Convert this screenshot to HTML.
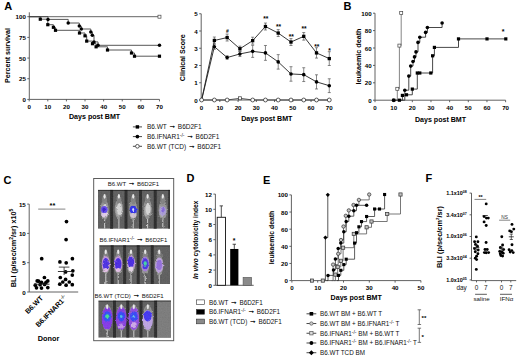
<!DOCTYPE html>
<html><head><meta charset="utf-8"><title>Figure</title>
<style>
html,body{margin:0;padding:0;background:#fff;}
body{width:520px;height:358px;overflow:hidden;}
svg{display:block;}
text{font-family:"Liberation Sans", sans-serif;}
</style></head>
<body>
<svg width="520" height="358" viewBox="0 0 520 358">
<rect x="0" y="0" width="520" height="358" fill="#fff"/>
<text x="4.20" y="9.80" font-size="11" font-weight="bold" text-anchor="start" fill="#000" >A</text>
<line x1="29.30" y1="12.30" x2="29.30" y2="99.40" stroke="#505050" stroke-width="0.9"/>
<line x1="27.30" y1="99.40" x2="29.30" y2="99.40" stroke="#505050" stroke-width="0.9"/>
<text x="25.90" y="101.92" font-size="6.2" font-weight="bold" text-anchor="end" fill="#000" >0</text>
<line x1="27.30" y1="78.73" x2="29.30" y2="78.73" stroke="#505050" stroke-width="0.9"/>
<text x="25.90" y="81.24" font-size="6.2" font-weight="bold" text-anchor="end" fill="#000" >25</text>
<line x1="27.30" y1="58.05" x2="29.30" y2="58.05" stroke="#505050" stroke-width="0.9"/>
<text x="25.90" y="60.57" font-size="6.2" font-weight="bold" text-anchor="end" fill="#000" >50</text>
<line x1="27.30" y1="37.38" x2="29.30" y2="37.38" stroke="#505050" stroke-width="0.9"/>
<text x="25.90" y="39.89" font-size="6.2" font-weight="bold" text-anchor="end" fill="#000" >75</text>
<line x1="27.30" y1="16.70" x2="29.30" y2="16.70" stroke="#505050" stroke-width="0.9"/>
<text x="25.90" y="19.22" font-size="6.2" font-weight="bold" text-anchor="end" fill="#000" >100</text>
<line x1="29.30" y1="99.40" x2="159.47" y2="99.40" stroke="#505050" stroke-width="0.9"/>
<line x1="29.20" y1="99.40" x2="29.20" y2="101.40" stroke="#505050" stroke-width="0.9"/>
<text x="29.20" y="108.82" font-size="6.2" font-weight="bold" text-anchor="middle" fill="#000" >0</text>
<line x1="47.81" y1="99.40" x2="47.81" y2="101.40" stroke="#505050" stroke-width="0.9"/>
<text x="47.81" y="108.82" font-size="6.2" font-weight="bold" text-anchor="middle" fill="#000" >10</text>
<line x1="66.42" y1="99.40" x2="66.42" y2="101.40" stroke="#505050" stroke-width="0.9"/>
<text x="66.42" y="108.82" font-size="6.2" font-weight="bold" text-anchor="middle" fill="#000" >20</text>
<line x1="85.03" y1="99.40" x2="85.03" y2="101.40" stroke="#505050" stroke-width="0.9"/>
<text x="85.03" y="108.82" font-size="6.2" font-weight="bold" text-anchor="middle" fill="#000" >30</text>
<line x1="103.64" y1="99.40" x2="103.64" y2="101.40" stroke="#505050" stroke-width="0.9"/>
<text x="103.64" y="108.82" font-size="6.2" font-weight="bold" text-anchor="middle" fill="#000" >40</text>
<line x1="122.25" y1="99.40" x2="122.25" y2="101.40" stroke="#505050" stroke-width="0.9"/>
<text x="122.25" y="108.82" font-size="6.2" font-weight="bold" text-anchor="middle" fill="#000" >50</text>
<line x1="140.86" y1="99.40" x2="140.86" y2="101.40" stroke="#505050" stroke-width="0.9"/>
<text x="140.86" y="108.82" font-size="6.2" font-weight="bold" text-anchor="middle" fill="#000" >60</text>
<line x1="159.47" y1="99.40" x2="159.47" y2="101.40" stroke="#505050" stroke-width="0.9"/>
<text x="159.47" y="108.82" font-size="6.2" font-weight="bold" text-anchor="middle" fill="#000" >70</text>
<text transform="translate(9.84,55.50) rotate(-90)" font-size="7.1" font-weight="bold" text-anchor="middle" fill="#000">Percent survival</text>
<text x="94.60" y="118.54" font-size="7.1" font-weight="bold" text-anchor="middle" fill="#000" >Days post BMT</text>
<line x1="29.30" y1="16.70" x2="159.47" y2="16.70" stroke="#555" stroke-width="0.9"/>
<rect x="157.97" y="15.20" width="3.0" height="3.0" fill="#fff" stroke="#444" stroke-width="0.7"/>
<path d="M29.30,16.70 H40.30 V19.20 H47.80 V24.70 H53.40 V27.30 H55.50 V30.30 H79.50 V33.00 H85.00 V35.80 H86.70 V41.10 H92.50 V43.70 H96.10 V46.80 H107.50 V50.00 H131.50 V53.00 H134.50 V56.20 H159.47" stroke="#444" stroke-width="0.9" fill="none"/>
<path d="M29.30,16.70 H48.00 V19.40 H68.20 V23.00 H79.30 V26.10 H81.30 V29.00 H90.80 V32.10 H92.30 V35.30 H94.00 V41.90 H98.00 V45.30 H159.47" stroke="#444" stroke-width="0.9" fill="none"/>
<rect x="38.70" y="17.60" width="3.2" height="3.2" fill="#000" stroke="none" stroke-width="0.8"/>
<rect x="46.20" y="23.10" width="3.2" height="3.2" fill="#000" stroke="none" stroke-width="0.8"/>
<rect x="51.80" y="25.70" width="3.2" height="3.2" fill="#000" stroke="none" stroke-width="0.8"/>
<rect x="53.90" y="28.70" width="3.2" height="3.2" fill="#000" stroke="none" stroke-width="0.8"/>
<rect x="77.90" y="31.40" width="3.2" height="3.2" fill="#000" stroke="none" stroke-width="0.8"/>
<rect x="83.40" y="34.20" width="3.2" height="3.2" fill="#000" stroke="none" stroke-width="0.8"/>
<rect x="85.10" y="39.50" width="3.2" height="3.2" fill="#000" stroke="none" stroke-width="0.8"/>
<rect x="90.90" y="42.10" width="3.2" height="3.2" fill="#000" stroke="none" stroke-width="0.8"/>
<rect x="94.50" y="45.20" width="3.2" height="3.2" fill="#000" stroke="none" stroke-width="0.8"/>
<rect x="105.90" y="48.40" width="3.2" height="3.2" fill="#000" stroke="none" stroke-width="0.8"/>
<rect x="129.90" y="51.40" width="3.2" height="3.2" fill="#000" stroke="none" stroke-width="0.8"/>
<rect x="132.90" y="54.60" width="3.2" height="3.2" fill="#000" stroke="none" stroke-width="0.8"/>
<rect x="157.87" y="54.60" width="3.2" height="3.2" fill="#000" stroke="none" stroke-width="0.8"/>
<circle cx="48.00" cy="19.40" r="1.75" fill="#000" stroke="none" stroke-width="0.8"/>
<circle cx="68.20" cy="23.00" r="1.75" fill="#000" stroke="none" stroke-width="0.8"/>
<circle cx="79.30" cy="26.10" r="1.75" fill="#000" stroke="none" stroke-width="0.8"/>
<circle cx="81.30" cy="29.00" r="1.75" fill="#000" stroke="none" stroke-width="0.8"/>
<circle cx="90.80" cy="32.10" r="1.75" fill="#000" stroke="none" stroke-width="0.8"/>
<circle cx="92.30" cy="35.30" r="1.75" fill="#000" stroke="none" stroke-width="0.8"/>
<circle cx="94.00" cy="41.90" r="1.75" fill="#000" stroke="none" stroke-width="0.8"/>
<circle cx="98.00" cy="45.30" r="1.75" fill="#000" stroke="none" stroke-width="0.8"/>
<circle cx="159.47" cy="45.30" r="1.75" fill="#000" stroke="none" stroke-width="0.8"/>
<line x1="132.90" y1="126.90" x2="142.00" y2="126.90" stroke="#333" stroke-width="0.9"/>
<rect x="135.70" y="125.20" width="3.4" height="3.4" fill="#000" stroke="none" stroke-width="0.8"/>
<text x="146.90" y="129.23" font-size="6.5" font-weight="normal" text-anchor="start" fill="#111" >B6.WT <tspan font-weight="bold" font-size="7.6" baseline-shift="1.1" stroke="#111" stroke-width="0.35">→</tspan> B6D2F1</text>
<line x1="132.90" y1="136.60" x2="142.00" y2="136.60" stroke="#333" stroke-width="0.9"/>
<circle cx="137.40" cy="136.60" r="1.85" fill="#000" stroke="none" stroke-width="0.8"/>
<text x="146.90" y="138.93" font-size="6.5" font-weight="normal" text-anchor="start" fill="#111" >B6.IFNAR1<tspan font-size="4.9" baseline-shift="2.4">-/-</tspan> <tspan font-weight="bold" font-size="7.6" baseline-shift="1.1" stroke="#111" stroke-width="0.35">→</tspan> B6D2F1</text>
<line x1="132.90" y1="146.30" x2="142.00" y2="146.30" stroke="#333" stroke-width="0.9"/>
<circle cx="137.40" cy="146.30" r="1.85" fill="#fff" stroke="#333" stroke-width="0.8"/>
<text x="146.90" y="148.63" font-size="6.5" font-weight="normal" text-anchor="start" fill="#111" >B6.WT (TCD) <tspan font-weight="bold" font-size="7.6" baseline-shift="1.1" stroke="#111" stroke-width="0.35">→</tspan> B6D2F1</text>
<line x1="201.20" y1="13.75" x2="201.20" y2="100.00" stroke="#505050" stroke-width="0.9"/>
<line x1="199.20" y1="100.00" x2="201.20" y2="100.00" stroke="#505050" stroke-width="0.9"/>
<text x="197.80" y="102.52" font-size="6.2" font-weight="bold" text-anchor="end" fill="#000" >0</text>
<line x1="199.20" y1="82.75" x2="201.20" y2="82.75" stroke="#505050" stroke-width="0.9"/>
<text x="197.80" y="85.27" font-size="6.2" font-weight="bold" text-anchor="end" fill="#000" >1</text>
<line x1="199.20" y1="65.50" x2="201.20" y2="65.50" stroke="#505050" stroke-width="0.9"/>
<text x="197.80" y="68.02" font-size="6.2" font-weight="bold" text-anchor="end" fill="#000" >2</text>
<line x1="199.20" y1="48.25" x2="201.20" y2="48.25" stroke="#505050" stroke-width="0.9"/>
<text x="197.80" y="50.77" font-size="6.2" font-weight="bold" text-anchor="end" fill="#000" >3</text>
<line x1="199.20" y1="31.00" x2="201.20" y2="31.00" stroke="#505050" stroke-width="0.9"/>
<text x="197.80" y="33.52" font-size="6.2" font-weight="bold" text-anchor="end" fill="#000" >4</text>
<line x1="199.20" y1="13.75" x2="201.20" y2="13.75" stroke="#505050" stroke-width="0.9"/>
<text x="197.80" y="16.27" font-size="6.2" font-weight="bold" text-anchor="end" fill="#000" >5</text>
<line x1="201.20" y1="100.00" x2="329.28" y2="100.00" stroke="#505050" stroke-width="0.9"/>
<line x1="201.60" y1="100.00" x2="201.60" y2="102.00" stroke="#505050" stroke-width="0.9"/>
<text x="201.60" y="109.52" font-size="6.2" font-weight="bold" text-anchor="middle" fill="#000" >0</text>
<line x1="219.84" y1="100.00" x2="219.84" y2="102.00" stroke="#505050" stroke-width="0.9"/>
<text x="219.84" y="109.52" font-size="6.2" font-weight="bold" text-anchor="middle" fill="#000" >10</text>
<line x1="238.08" y1="100.00" x2="238.08" y2="102.00" stroke="#505050" stroke-width="0.9"/>
<text x="238.08" y="109.52" font-size="6.2" font-weight="bold" text-anchor="middle" fill="#000" >20</text>
<line x1="256.32" y1="100.00" x2="256.32" y2="102.00" stroke="#505050" stroke-width="0.9"/>
<text x="256.32" y="109.52" font-size="6.2" font-weight="bold" text-anchor="middle" fill="#000" >30</text>
<line x1="274.56" y1="100.00" x2="274.56" y2="102.00" stroke="#505050" stroke-width="0.9"/>
<text x="274.56" y="109.52" font-size="6.2" font-weight="bold" text-anchor="middle" fill="#000" >40</text>
<line x1="292.80" y1="100.00" x2="292.80" y2="102.00" stroke="#505050" stroke-width="0.9"/>
<text x="292.80" y="109.52" font-size="6.2" font-weight="bold" text-anchor="middle" fill="#000" >50</text>
<line x1="311.04" y1="100.00" x2="311.04" y2="102.00" stroke="#505050" stroke-width="0.9"/>
<text x="311.04" y="109.52" font-size="6.2" font-weight="bold" text-anchor="middle" fill="#000" >60</text>
<line x1="329.28" y1="100.00" x2="329.28" y2="102.00" stroke="#505050" stroke-width="0.9"/>
<text x="329.28" y="109.52" font-size="6.2" font-weight="bold" text-anchor="middle" fill="#000" >70</text>
<text transform="translate(185.24,57.70) rotate(-90)" font-size="7.1" font-weight="bold" text-anchor="middle" fill="#000">Clinical Score</text>
<text x="266.80" y="120.74" font-size="7.1" font-weight="bold" text-anchor="middle" fill="#000" >Days post BMT</text>
<path d="M201.60,100.00 L214.37,100.00 L227.14,100.00 L239.90,98.28 L252.67,100.00 L265.44,100.00 L278.21,100.00 L290.98,100.00 L303.74,100.00 L316.51,100.00 L329.28,100.00" stroke="#333" stroke-width="0.8" fill="none"/>
<path d="M201.60,100.00 L214.37,46.70 L227.14,57.56 L239.90,53.94 L252.67,51.36 L265.44,52.91 L278.21,61.88 L290.98,73.95 L303.74,74.64 L316.51,81.89 L329.28,85.68" stroke="#222" stroke-width="0.9" fill="none"/>
<line x1="214.37" y1="49.29" x2="214.37" y2="44.11" stroke="#555" stroke-width="0.7"/>
<line x1="212.87" y1="44.11" x2="215.87" y2="44.11" stroke="#555" stroke-width="0.7"/>
<line x1="212.87" y1="49.29" x2="215.87" y2="49.29" stroke="#555" stroke-width="0.7"/>
<line x1="227.14" y1="59.29" x2="227.14" y2="55.84" stroke="#555" stroke-width="0.7"/>
<line x1="225.64" y1="55.84" x2="228.64" y2="55.84" stroke="#555" stroke-width="0.7"/>
<line x1="225.64" y1="59.29" x2="228.64" y2="59.29" stroke="#555" stroke-width="0.7"/>
<line x1="239.90" y1="56.53" x2="239.90" y2="51.36" stroke="#555" stroke-width="0.7"/>
<line x1="238.40" y1="51.36" x2="241.40" y2="51.36" stroke="#555" stroke-width="0.7"/>
<line x1="238.40" y1="56.53" x2="241.40" y2="56.53" stroke="#555" stroke-width="0.7"/>
<line x1="252.67" y1="57.39" x2="252.67" y2="45.32" stroke="#555" stroke-width="0.7"/>
<line x1="251.17" y1="45.32" x2="254.17" y2="45.32" stroke="#555" stroke-width="0.7"/>
<line x1="251.17" y1="57.39" x2="254.17" y2="57.39" stroke="#555" stroke-width="0.7"/>
<line x1="265.44" y1="60.33" x2="265.44" y2="45.49" stroke="#555" stroke-width="0.7"/>
<line x1="263.94" y1="45.49" x2="266.94" y2="45.49" stroke="#555" stroke-width="0.7"/>
<line x1="263.94" y1="60.33" x2="266.94" y2="60.33" stroke="#555" stroke-width="0.7"/>
<line x1="278.21" y1="69.12" x2="278.21" y2="54.63" stroke="#555" stroke-width="0.7"/>
<line x1="276.71" y1="54.63" x2="279.71" y2="54.63" stroke="#555" stroke-width="0.7"/>
<line x1="276.71" y1="69.12" x2="279.71" y2="69.12" stroke="#555" stroke-width="0.7"/>
<line x1="290.98" y1="81.20" x2="290.98" y2="66.71" stroke="#555" stroke-width="0.7"/>
<line x1="289.48" y1="66.71" x2="292.48" y2="66.71" stroke="#555" stroke-width="0.7"/>
<line x1="289.48" y1="81.20" x2="292.48" y2="81.20" stroke="#555" stroke-width="0.7"/>
<line x1="303.74" y1="81.54" x2="303.74" y2="67.74" stroke="#555" stroke-width="0.7"/>
<line x1="302.24" y1="67.74" x2="305.24" y2="67.74" stroke="#555" stroke-width="0.7"/>
<line x1="302.24" y1="81.54" x2="305.24" y2="81.54" stroke="#555" stroke-width="0.7"/>
<line x1="316.51" y1="88.96" x2="316.51" y2="74.81" stroke="#555" stroke-width="0.7"/>
<line x1="315.01" y1="74.81" x2="318.01" y2="74.81" stroke="#555" stroke-width="0.7"/>
<line x1="315.01" y1="88.96" x2="318.01" y2="88.96" stroke="#555" stroke-width="0.7"/>
<line x1="329.28" y1="92.58" x2="329.28" y2="78.78" stroke="#555" stroke-width="0.7"/>
<line x1="327.78" y1="78.78" x2="330.78" y2="78.78" stroke="#555" stroke-width="0.7"/>
<line x1="327.78" y1="92.58" x2="330.78" y2="92.58" stroke="#555" stroke-width="0.7"/>
<path d="M201.60,100.00 L214.37,40.49 L227.14,37.55 L239.90,48.77 L252.67,40.66 L265.44,26.52 L278.21,33.07 L290.98,42.04 L303.74,36.35 L316.51,52.91 L329.28,58.60" stroke="#222" stroke-width="0.9" fill="none"/>
<line x1="214.37" y1="43.94" x2="214.37" y2="37.04" stroke="#555" stroke-width="0.7"/>
<line x1="212.87" y1="37.04" x2="215.87" y2="37.04" stroke="#555" stroke-width="0.7"/>
<line x1="212.87" y1="43.94" x2="215.87" y2="43.94" stroke="#555" stroke-width="0.7"/>
<line x1="227.14" y1="41.01" x2="227.14" y2="34.10" stroke="#555" stroke-width="0.7"/>
<line x1="225.64" y1="34.10" x2="228.64" y2="34.10" stroke="#555" stroke-width="0.7"/>
<line x1="225.64" y1="41.01" x2="228.64" y2="41.01" stroke="#555" stroke-width="0.7"/>
<line x1="239.90" y1="51.35" x2="239.90" y2="46.18" stroke="#555" stroke-width="0.7"/>
<line x1="238.40" y1="46.18" x2="241.40" y2="46.18" stroke="#555" stroke-width="0.7"/>
<line x1="238.40" y1="51.35" x2="241.40" y2="51.35" stroke="#555" stroke-width="0.7"/>
<line x1="252.67" y1="44.11" x2="252.67" y2="37.21" stroke="#555" stroke-width="0.7"/>
<line x1="251.17" y1="37.21" x2="254.17" y2="37.21" stroke="#555" stroke-width="0.7"/>
<line x1="251.17" y1="44.11" x2="254.17" y2="44.11" stroke="#555" stroke-width="0.7"/>
<line x1="265.44" y1="29.97" x2="265.44" y2="23.06" stroke="#555" stroke-width="0.7"/>
<line x1="263.94" y1="23.06" x2="266.94" y2="23.06" stroke="#555" stroke-width="0.7"/>
<line x1="263.94" y1="29.97" x2="266.94" y2="29.97" stroke="#555" stroke-width="0.7"/>
<line x1="278.21" y1="36.52" x2="278.21" y2="29.62" stroke="#555" stroke-width="0.7"/>
<line x1="276.71" y1="29.62" x2="279.71" y2="29.62" stroke="#555" stroke-width="0.7"/>
<line x1="276.71" y1="36.52" x2="279.71" y2="36.52" stroke="#555" stroke-width="0.7"/>
<line x1="290.98" y1="45.49" x2="290.98" y2="38.59" stroke="#555" stroke-width="0.7"/>
<line x1="289.48" y1="38.59" x2="292.48" y2="38.59" stroke="#555" stroke-width="0.7"/>
<line x1="289.48" y1="45.49" x2="292.48" y2="45.49" stroke="#555" stroke-width="0.7"/>
<line x1="303.74" y1="40.14" x2="303.74" y2="32.55" stroke="#555" stroke-width="0.7"/>
<line x1="302.24" y1="32.55" x2="305.24" y2="32.55" stroke="#555" stroke-width="0.7"/>
<line x1="302.24" y1="40.14" x2="305.24" y2="40.14" stroke="#555" stroke-width="0.7"/>
<line x1="316.51" y1="58.08" x2="316.51" y2="47.73" stroke="#555" stroke-width="0.7"/>
<line x1="315.01" y1="47.73" x2="318.01" y2="47.73" stroke="#555" stroke-width="0.7"/>
<line x1="315.01" y1="58.08" x2="318.01" y2="58.08" stroke="#555" stroke-width="0.7"/>
<line x1="329.28" y1="65.50" x2="329.28" y2="51.70" stroke="#555" stroke-width="0.7"/>
<line x1="327.78" y1="51.70" x2="330.78" y2="51.70" stroke="#555" stroke-width="0.7"/>
<line x1="327.78" y1="65.50" x2="330.78" y2="65.50" stroke="#555" stroke-width="0.7"/>
<rect x="212.72" y="38.84" width="3.3" height="3.3" fill="#000" stroke="none" stroke-width="0.8"/>
<rect x="225.49" y="35.91" width="3.3" height="3.3" fill="#000" stroke="none" stroke-width="0.8"/>
<rect x="238.25" y="47.12" width="3.3" height="3.3" fill="#000" stroke="none" stroke-width="0.8"/>
<rect x="251.02" y="39.01" width="3.3" height="3.3" fill="#000" stroke="none" stroke-width="0.8"/>
<rect x="263.79" y="24.87" width="3.3" height="3.3" fill="#000" stroke="none" stroke-width="0.8"/>
<rect x="276.56" y="31.42" width="3.3" height="3.3" fill="#000" stroke="none" stroke-width="0.8"/>
<rect x="289.33" y="40.39" width="3.3" height="3.3" fill="#000" stroke="none" stroke-width="0.8"/>
<rect x="302.09" y="34.70" width="3.3" height="3.3" fill="#000" stroke="none" stroke-width="0.8"/>
<rect x="314.86" y="51.26" width="3.3" height="3.3" fill="#000" stroke="none" stroke-width="0.8"/>
<rect x="327.63" y="56.95" width="3.3" height="3.3" fill="#000" stroke="none" stroke-width="0.8"/>
<circle cx="214.37" cy="46.70" r="1.8" fill="#000" stroke="none" stroke-width="0.8"/>
<circle cx="227.14" cy="57.56" r="1.8" fill="#000" stroke="none" stroke-width="0.8"/>
<circle cx="239.90" cy="53.94" r="1.8" fill="#000" stroke="none" stroke-width="0.8"/>
<circle cx="252.67" cy="51.36" r="1.8" fill="#000" stroke="none" stroke-width="0.8"/>
<circle cx="265.44" cy="52.91" r="1.8" fill="#000" stroke="none" stroke-width="0.8"/>
<circle cx="278.21" cy="61.88" r="1.8" fill="#000" stroke="none" stroke-width="0.8"/>
<circle cx="290.98" cy="73.95" r="1.8" fill="#000" stroke="none" stroke-width="0.8"/>
<circle cx="303.74" cy="74.64" r="1.8" fill="#000" stroke="none" stroke-width="0.8"/>
<circle cx="316.51" cy="81.89" r="1.8" fill="#000" stroke="none" stroke-width="0.8"/>
<circle cx="329.28" cy="85.68" r="1.8" fill="#000" stroke="none" stroke-width="0.8"/>
<circle cx="201.60" cy="100.00" r="1.95" fill="#fff" stroke="#333" stroke-width="0.8"/>
<circle cx="214.37" cy="100.00" r="1.95" fill="#fff" stroke="#333" stroke-width="0.8"/>
<circle cx="227.14" cy="100.00" r="1.95" fill="#fff" stroke="#333" stroke-width="0.8"/>
<rect x="238.40" y="96.78" width="3.0" height="3.0" fill="#fff" stroke="#333" stroke-width="0.7"/>
<circle cx="252.67" cy="100.00" r="1.95" fill="#fff" stroke="#333" stroke-width="0.8"/>
<circle cx="265.44" cy="100.00" r="1.95" fill="#fff" stroke="#333" stroke-width="0.8"/>
<circle cx="278.21" cy="100.00" r="1.95" fill="#fff" stroke="#333" stroke-width="0.8"/>
<circle cx="290.98" cy="100.00" r="1.95" fill="#fff" stroke="#333" stroke-width="0.8"/>
<circle cx="303.74" cy="100.00" r="1.95" fill="#fff" stroke="#333" stroke-width="0.8"/>
<circle cx="316.51" cy="100.00" r="1.95" fill="#fff" stroke="#333" stroke-width="0.8"/>
<circle cx="329.28" cy="100.00" r="1.95" fill="#fff" stroke="#333" stroke-width="0.8"/>
<text x="227.44" y="32.59" font-size="5.0" font-weight="bold" text-anchor="middle" fill="#000" >#</text>
<text x="265.74" y="21.31" font-size="6.6" font-weight="bold" text-anchor="middle" fill="#000" >**</text>
<text x="278.51" y="28.71" font-size="6.6" font-weight="bold" text-anchor="middle" fill="#000" >**</text>
<text x="291.28" y="39.21" font-size="6.6" font-weight="bold" text-anchor="middle" fill="#000" >**</text>
<text x="304.04" y="31.41" font-size="6.6" font-weight="bold" text-anchor="middle" fill="#000" >**</text>
<text x="316.81" y="48.51" font-size="6.6" font-weight="bold" text-anchor="middle" fill="#000" >**</text>
<text x="329.58" y="52.91" font-size="6.6" font-weight="bold" text-anchor="middle" fill="#000" >*</text>
<text x="343.60" y="9.80" font-size="11" font-weight="bold" text-anchor="start" fill="#000" >B</text>
<line x1="375.00" y1="13.20" x2="375.00" y2="100.20" stroke="#505050" stroke-width="0.9"/>
<line x1="373.00" y1="100.20" x2="375.00" y2="100.20" stroke="#505050" stroke-width="0.9"/>
<text x="371.60" y="102.72" font-size="6.2" font-weight="bold" text-anchor="end" fill="#000" >0</text>
<line x1="373.00" y1="82.80" x2="375.00" y2="82.80" stroke="#505050" stroke-width="0.9"/>
<text x="371.60" y="85.32" font-size="6.2" font-weight="bold" text-anchor="end" fill="#000" >20</text>
<line x1="373.00" y1="65.40" x2="375.00" y2="65.40" stroke="#505050" stroke-width="0.9"/>
<text x="371.60" y="67.92" font-size="6.2" font-weight="bold" text-anchor="end" fill="#000" >40</text>
<line x1="373.00" y1="48.00" x2="375.00" y2="48.00" stroke="#505050" stroke-width="0.9"/>
<text x="371.60" y="50.52" font-size="6.2" font-weight="bold" text-anchor="end" fill="#000" >60</text>
<line x1="373.00" y1="30.60" x2="375.00" y2="30.60" stroke="#505050" stroke-width="0.9"/>
<text x="371.60" y="33.12" font-size="6.2" font-weight="bold" text-anchor="end" fill="#000" >80</text>
<line x1="373.00" y1="13.20" x2="375.00" y2="13.20" stroke="#505050" stroke-width="0.9"/>
<text x="371.60" y="15.72" font-size="6.2" font-weight="bold" text-anchor="end" fill="#000" >100</text>
<line x1="375.00" y1="100.20" x2="505.62" y2="100.20" stroke="#505050" stroke-width="0.9"/>
<line x1="375.00" y1="100.20" x2="375.00" y2="102.20" stroke="#505050" stroke-width="0.9"/>
<text x="375.00" y="109.52" font-size="6.2" font-weight="bold" text-anchor="middle" fill="#000" >0</text>
<line x1="393.66" y1="100.20" x2="393.66" y2="102.20" stroke="#505050" stroke-width="0.9"/>
<text x="393.66" y="109.52" font-size="6.2" font-weight="bold" text-anchor="middle" fill="#000" >10</text>
<line x1="412.32" y1="100.20" x2="412.32" y2="102.20" stroke="#505050" stroke-width="0.9"/>
<text x="412.32" y="109.52" font-size="6.2" font-weight="bold" text-anchor="middle" fill="#000" >20</text>
<line x1="430.98" y1="100.20" x2="430.98" y2="102.20" stroke="#505050" stroke-width="0.9"/>
<text x="430.98" y="109.52" font-size="6.2" font-weight="bold" text-anchor="middle" fill="#000" >30</text>
<line x1="449.64" y1="100.20" x2="449.64" y2="102.20" stroke="#505050" stroke-width="0.9"/>
<text x="449.64" y="109.52" font-size="6.2" font-weight="bold" text-anchor="middle" fill="#000" >40</text>
<line x1="468.30" y1="100.20" x2="468.30" y2="102.20" stroke="#505050" stroke-width="0.9"/>
<text x="468.30" y="109.52" font-size="6.2" font-weight="bold" text-anchor="middle" fill="#000" >50</text>
<line x1="486.96" y1="100.20" x2="486.96" y2="102.20" stroke="#505050" stroke-width="0.9"/>
<text x="486.96" y="109.52" font-size="6.2" font-weight="bold" text-anchor="middle" fill="#000" >60</text>
<line x1="505.62" y1="100.20" x2="505.62" y2="102.20" stroke="#505050" stroke-width="0.9"/>
<text x="505.62" y="109.52" font-size="6.2" font-weight="bold" text-anchor="middle" fill="#000" >70</text>
<text transform="translate(360.58,56.50) rotate(-90)" font-size="7.2" font-weight="bold" text-anchor="middle" fill="#000">leukaemic death</text>
<text x="440.50" y="122.14" font-size="7.1" font-weight="bold" text-anchor="middle" fill="#000" >Days post BMT</text>
<path d="M396.00,100.20 H397.30 V88.80 H399.40 V45.60 H401.20 V13.10" stroke="#666" stroke-width="0.8" fill="none"/>
<rect x="395.80" y="87.30" width="3.0" height="3.0" fill="#fff" stroke="#444" stroke-width="0.7"/>
<rect x="397.90" y="44.10" width="3.0" height="3.0" fill="#fff" stroke="#444" stroke-width="0.7"/>
<rect x="399.70" y="11.60" width="3.0" height="3.0" fill="#fff" stroke="#444" stroke-width="0.7"/>
<path d="M393.60,100.20 H404.80 V90.20 H408.80 V76.10 H410.70 V66.10 H413.00 V61.50 H414.50 V56.90 H416.00 V51.90 H418.00 V42.40 H419.80 V37.20 H425.60 V32.40 H427.40 V27.50 H442.10 V23.00" stroke="#333" stroke-width="0.9" fill="none"/>
<circle cx="393.60" cy="100.20" r="1.8" fill="#000" stroke="none" stroke-width="0.8"/>
<circle cx="404.80" cy="90.20" r="1.8" fill="#000" stroke="none" stroke-width="0.8"/>
<circle cx="408.80" cy="76.10" r="1.8" fill="#000" stroke="none" stroke-width="0.8"/>
<circle cx="410.70" cy="66.10" r="1.8" fill="#000" stroke="none" stroke-width="0.8"/>
<circle cx="413.00" cy="61.50" r="1.8" fill="#000" stroke="none" stroke-width="0.8"/>
<circle cx="414.50" cy="56.90" r="1.8" fill="#000" stroke="none" stroke-width="0.8"/>
<circle cx="416.00" cy="51.90" r="1.8" fill="#000" stroke="none" stroke-width="0.8"/>
<circle cx="418.00" cy="42.40" r="1.8" fill="#000" stroke="none" stroke-width="0.8"/>
<circle cx="419.80" cy="37.20" r="1.8" fill="#000" stroke="none" stroke-width="0.8"/>
<circle cx="425.60" cy="32.40" r="1.8" fill="#000" stroke="none" stroke-width="0.8"/>
<circle cx="427.40" cy="27.50" r="1.8" fill="#000" stroke="none" stroke-width="0.8"/>
<circle cx="442.10" cy="23.00" r="1.8" fill="#000" stroke="none" stroke-width="0.8"/>
<path d="M399.40,100.20 H402.40 V95.40 H406.50 V94.80 H412.30 V89.10 H417.30 V73.00 H432.60 V55.80 H434.40 V47.40 H458.50 V38.90 H505.80" stroke="#333" stroke-width="0.9" fill="none"/>
<rect x="392.20" y="98.60" width="3.2" height="3.2" fill="#000" stroke="none" stroke-width="0.8"/>
<rect x="397.80" y="98.60" width="3.2" height="3.2" fill="#000" stroke="none" stroke-width="0.8"/>
<rect x="400.80" y="93.80" width="3.2" height="3.2" fill="#000" stroke="none" stroke-width="0.8"/>
<rect x="404.90" y="93.20" width="3.2" height="3.2" fill="#000" stroke="none" stroke-width="0.8"/>
<rect x="410.70" y="87.50" width="3.2" height="3.2" fill="#000" stroke="none" stroke-width="0.8"/>
<rect x="415.70" y="71.40" width="3.2" height="3.2" fill="#000" stroke="none" stroke-width="0.8"/>
<rect x="431.00" y="54.20" width="3.2" height="3.2" fill="#000" stroke="none" stroke-width="0.8"/>
<rect x="432.80" y="45.80" width="3.2" height="3.2" fill="#000" stroke="none" stroke-width="0.8"/>
<rect x="456.90" y="37.30" width="3.2" height="3.2" fill="#000" stroke="none" stroke-width="0.8"/>
<rect x="418.20" y="71.40" width="3.2" height="3.2" fill="#000" stroke="none" stroke-width="0.8"/>
<rect x="429.20" y="71.40" width="3.2" height="3.2" fill="#000" stroke="none" stroke-width="0.8"/>
<rect x="485.40" y="37.30" width="3.2" height="3.2" fill="#000" stroke="none" stroke-width="0.8"/>
<rect x="504.20" y="37.30" width="3.2" height="3.2" fill="#000" stroke="none" stroke-width="0.8"/>
<text x="503.10" y="34.21" font-size="7.0" font-weight="bold" text-anchor="middle" fill="#000" >*</text>
<text x="3.40" y="184.20" font-size="11" font-weight="bold" text-anchor="start" fill="#000" >C</text>
<line x1="29.20" y1="204.10" x2="29.20" y2="292.00" stroke="#505050" stroke-width="0.9"/>
<line x1="27.20" y1="292.00" x2="29.20" y2="292.00" stroke="#505050" stroke-width="0.9"/>
<text x="25.80" y="294.52" font-size="6.2" font-weight="bold" text-anchor="end" fill="#000" >0</text>
<line x1="27.20" y1="262.70" x2="29.20" y2="262.70" stroke="#505050" stroke-width="0.9"/>
<text x="25.80" y="265.22" font-size="6.2" font-weight="bold" text-anchor="end" fill="#000" >5</text>
<line x1="27.20" y1="233.40" x2="29.20" y2="233.40" stroke="#505050" stroke-width="0.9"/>
<text x="25.80" y="235.92" font-size="6.2" font-weight="bold" text-anchor="end" fill="#000" >10</text>
<line x1="27.20" y1="204.10" x2="29.20" y2="204.10" stroke="#505050" stroke-width="0.9"/>
<text x="25.80" y="206.62" font-size="6.2" font-weight="bold" text-anchor="end" fill="#000" >15</text>
<line x1="29.20" y1="292.00" x2="78.20" y2="292.00" stroke="#505050" stroke-width="0.9"/>
<text transform="translate(15.61,247.90) rotate(-90)" font-size="7.3" font-weight="bold" text-anchor="middle" fill="#000">BLI (p/sec/cm<tspan font-size="5.0" baseline-shift="2.9">2</tspan>/sr) x10<tspan font-size="5.0" baseline-shift="2.9">5</tspan></text>
<line x1="38.20" y1="209.10" x2="65.40" y2="209.10" stroke="#777" stroke-width="0.9"/>
<text x="52.40" y="208.11" font-size="7.4" font-weight="bold" text-anchor="middle" fill="#000" >**</text>
<circle cx="41.70" cy="258.70" r="1.85" fill="#000" stroke="none" stroke-width="0.8"/>
<circle cx="37.20" cy="280.90" r="1.85" fill="#000" stroke="none" stroke-width="0.8"/>
<circle cx="44.40" cy="277.50" r="1.85" fill="#000" stroke="none" stroke-width="0.8"/>
<circle cx="47.80" cy="280.90" r="1.85" fill="#000" stroke="none" stroke-width="0.8"/>
<circle cx="41.50" cy="282.30" r="1.85" fill="#000" stroke="none" stroke-width="0.8"/>
<circle cx="35.30" cy="285.20" r="1.85" fill="#000" stroke="none" stroke-width="0.8"/>
<circle cx="40.10" cy="284.70" r="1.85" fill="#000" stroke="none" stroke-width="0.8"/>
<circle cx="44.60" cy="284.40" r="1.85" fill="#000" stroke="none" stroke-width="0.8"/>
<circle cx="47.80" cy="287.60" r="1.85" fill="#000" stroke="none" stroke-width="0.8"/>
<circle cx="41.50" cy="288.10" r="1.85" fill="#000" stroke="none" stroke-width="0.8"/>
<circle cx="36.50" cy="287.80" r="1.85" fill="#000" stroke="none" stroke-width="0.8"/>
<circle cx="38.60" cy="281.20" r="1.85" fill="#000" stroke="none" stroke-width="0.8"/>
<circle cx="46.00" cy="282.40" r="1.85" fill="#000" stroke="none" stroke-width="0.8"/>
<circle cx="66.50" cy="221.60" r="1.85" fill="#000" stroke="none" stroke-width="0.8"/>
<circle cx="66.10" cy="239.60" r="1.85" fill="#000" stroke="none" stroke-width="0.8"/>
<circle cx="59.90" cy="261.90" r="1.85" fill="#000" stroke="none" stroke-width="0.8"/>
<circle cx="66.20" cy="262.80" r="1.85" fill="#000" stroke="none" stroke-width="0.8"/>
<circle cx="72.40" cy="258.70" r="1.85" fill="#000" stroke="none" stroke-width="0.8"/>
<circle cx="65.60" cy="271.90" r="1.85" fill="#000" stroke="none" stroke-width="0.8"/>
<circle cx="72.80" cy="270.80" r="1.85" fill="#000" stroke="none" stroke-width="0.8"/>
<circle cx="72.30" cy="275.10" r="1.85" fill="#000" stroke="none" stroke-width="0.8"/>
<circle cx="60.30" cy="277.50" r="1.85" fill="#000" stroke="none" stroke-width="0.8"/>
<circle cx="65.60" cy="279.40" r="1.85" fill="#000" stroke="none" stroke-width="0.8"/>
<circle cx="59.80" cy="284.20" r="1.85" fill="#000" stroke="none" stroke-width="0.8"/>
<circle cx="62.80" cy="282.00" r="1.85" fill="#000" stroke="none" stroke-width="0.8"/>
<circle cx="66.10" cy="285.20" r="1.85" fill="#000" stroke="none" stroke-width="0.8"/>
<circle cx="69.30" cy="282.00" r="1.85" fill="#000" stroke="none" stroke-width="0.8"/>
<circle cx="72.30" cy="284.70" r="1.85" fill="#000" stroke="none" stroke-width="0.8"/>
<line x1="57.90" y1="271.50" x2="72.30" y2="271.50" stroke="#222" stroke-width="0.9"/>
<line x1="64.10" y1="267.10" x2="64.10" y2="275.00" stroke="#222" stroke-width="0.8"/>
<line x1="58.80" y1="267.10" x2="69.40" y2="267.10" stroke="#222" stroke-width="0.8"/>
<line x1="34.00" y1="284.20" x2="49.50" y2="284.20" stroke="#222" stroke-width="0.9"/>
<text transform="translate(27.9,314.3) rotate(-45)" font-size="7.1" font-weight="bold" fill="#000">B6.WT</text>
<text transform="translate(38.4,327.6) rotate(-45)" font-size="7.1" font-weight="bold" fill="#000">B6.IFNAR1<tspan font-size="4.8" baseline-shift="2.8">-/-</tspan></text>
<text x="48.50" y="341.01" font-size="7.3" font-weight="bold" text-anchor="middle" fill="#000" >Donor</text>
<rect x="93.7" y="178.5" width="80.0" height="162.2" fill="#fff" stroke="#555" stroke-width="0.95"/>
<text x="133.40" y="186.45" font-size="6.0" font-weight="normal" text-anchor="middle" fill="#111" >B6.WT <tspan font-weight="bold" font-size="7.6" baseline-shift="1.1" stroke="#111" stroke-width="0.35">→</tspan> B6D2F1</text>
<text x="133.40" y="242.05" font-size="6.0" font-weight="normal" text-anchor="middle" fill="#111" >B6.IFNAR1<tspan font-size="4.9" baseline-shift="2.4">-/-</tspan> <tspan font-weight="bold" font-size="7.6" baseline-shift="1.1" stroke="#111" stroke-width="0.35">→</tspan> B6D2F1</text>
<text x="129.10" y="298.45" font-size="6.0" font-weight="normal" text-anchor="middle" fill="#111" >B6.WT (TCD) <tspan font-weight="bold" font-size="7.6" baseline-shift="1.1" stroke="#111" stroke-width="0.35">→</tspan> B6D2F1</text>
<defs><filter id="blur1" x="-50%" y="-50%" width="200%" height="200%"><feGaussianBlur stdDeviation="0.7"/></filter><filter id="blur05" x="-50%" y="-50%" width="200%" height="200%"><feGaussianBlur stdDeviation="0.45"/></filter><filter id="blur2" x="-50%" y="-50%" width="200%" height="200%"><feGaussianBlur stdDeviation="1.2"/></filter><filter id="rough" x="-30%" y="-30%" width="160%" height="160%"><feTurbulence type="fractalNoise" baseFrequency="0.45" numOctaves="2" seed="7" result="t"/><feDisplacementMap in="SourceGraphic" in2="t" scale="2.6" xChannelSelector="R" yChannelSelector="G" result="d"/><feGaussianBlur in="d" stdDeviation="0.55"/></filter><filter id="noise" x="0" y="0" width="100%" height="100%"><feTurbulence type="fractalNoise" baseFrequency="0.8" numOctaves="2" seed="3"/><feColorMatrix type="matrix" values="0.33 0.33 0.33 0 0  0.33 0.33 0.33 0 0  0.33 0.33 0.33 0 0  0 0 0 0 1"/></filter><clipPath id="clip1"><rect x="98.0" y="189.7" width="71.9" height="39.1"/></clipPath><clipPath id="clip2"><rect x="99.2" y="245.2" width="70.8" height="38.9"/></clipPath><clipPath id="clip3"><rect x="98.3" y="300.4" width="72.7" height="37.3"/></clipPath></defs>
<g clip-path="url(#clip1)">
<rect x="98.0" y="189.7" width="71.90" height="39.10" fill="#505050"/>
<rect x="110.10" y="189.7" width="3.0" height="39.10" fill="#141414" filter="url(#blur1)"/>
<rect x="124.50" y="189.7" width="3.0" height="39.10" fill="#141414" filter="url(#blur1)"/>
<rect x="139.00" y="189.7" width="3.0" height="39.10" fill="#141414" filter="url(#blur1)"/>
<rect x="153.70" y="189.7" width="3.0" height="39.10" fill="#141414" filter="url(#blur1)"/>
<rect x="168.30" y="189.7" width="3.0" height="39.10" fill="#141414" filter="url(#blur1)"/>
<g filter="url(#rough)">
<line x1="104.60" y1="218.00" x2="104.60" y2="228.80" stroke="#c8c8c8" stroke-width="1.1"/>
<ellipse cx="104.60" cy="210.00" rx="4.2" ry="10" fill="#8e8e8e"/>
<ellipse cx="103.60" cy="212.00" rx="2.10" ry="5.00" fill="#b0b0b0" opacity="0.8"/>
<ellipse cx="104.60" cy="199.87" rx="2.4" ry="4.5" fill="#7a7a7a"/>
<ellipse cx="105.10" cy="210.00" rx="2.52" ry="6.00" fill="#d8d8d8"/>
<ellipse cx="104.30" cy="214.50" rx="3.0" ry="3.0" fill="#e8d0f0" opacity="0.9"/>
<ellipse cx="104.30" cy="209.60" rx="3.4" ry="3.6" fill="#5a3af0" opacity="1"/>
<ellipse cx="104.00" cy="209.40" rx="1.6" ry="1.8" fill="#2a10d0" opacity="1"/>
</g>
<ellipse cx="104.60" cy="196.35" rx="1.1" ry="2.4" fill="#f0f0f0" filter="url(#blur05)"/>
<g filter="url(#rough)">
<line x1="118.90" y1="217.00" x2="118.90" y2="228.80" stroke="#c8c8c8" stroke-width="1.1"/>
<ellipse cx="118.90" cy="209.00" rx="4.2" ry="10" fill="#8e8e8e"/>
<ellipse cx="117.90" cy="211.00" rx="2.10" ry="5.00" fill="#b0b0b0" opacity="0.8"/>
<ellipse cx="118.90" cy="199.87" rx="2.4" ry="4.5" fill="#7a7a7a"/>
<ellipse cx="119.40" cy="209.00" rx="2.52" ry="6.00" fill="#d8d8d8"/>
</g>
<ellipse cx="118.90" cy="196.35" rx="1.1" ry="2.4" fill="#f0f0f0" filter="url(#blur05)"/>
<g filter="url(#rough)">
<line x1="133.20" y1="218.00" x2="133.20" y2="228.80" stroke="#c8c8c8" stroke-width="1.1"/>
<ellipse cx="133.20" cy="210.00" rx="4.2" ry="10" fill="#8e8e8e"/>
<ellipse cx="132.20" cy="212.00" rx="2.10" ry="5.00" fill="#b0b0b0" opacity="0.8"/>
<ellipse cx="133.20" cy="199.87" rx="2.4" ry="4.5" fill="#7a7a7a"/>
<ellipse cx="133.20" cy="215.00" rx="3.0" ry="3.0" fill="#d8c8d8" opacity="0.9"/>
<ellipse cx="133.20" cy="209.60" rx="3.6" ry="3.9" fill="#1c1cf0" opacity="1"/>
<ellipse cx="133.20" cy="209.60" rx="1.0" ry="1.5" fill="#e0e8ff" opacity="1"/>
</g>
<ellipse cx="133.20" cy="196.35" rx="1.1" ry="2.4" fill="#f0f0f0" filter="url(#blur05)"/>
<g filter="url(#rough)">
<line x1="147.60" y1="217.00" x2="147.60" y2="228.80" stroke="#c8c8c8" stroke-width="1.1"/>
<ellipse cx="147.60" cy="209.00" rx="4.2" ry="10" fill="#8e8e8e"/>
<ellipse cx="146.60" cy="211.00" rx="2.10" ry="5.00" fill="#b0b0b0" opacity="0.8"/>
<ellipse cx="147.60" cy="199.87" rx="2.4" ry="4.5" fill="#7a7a7a"/>
<ellipse cx="148.10" cy="209.00" rx="2.52" ry="6.00" fill="#d8d8d8"/>
</g>
<ellipse cx="147.60" cy="196.35" rx="1.1" ry="2.4" fill="#f0f0f0" filter="url(#blur05)"/>
<g filter="url(#rough)">
<line x1="162.80" y1="218.00" x2="162.80" y2="228.80" stroke="#c8c8c8" stroke-width="1.1"/>
<ellipse cx="162.80" cy="210.00" rx="4.2" ry="10" fill="#8e8e8e"/>
<ellipse cx="161.80" cy="212.00" rx="2.10" ry="5.00" fill="#b0b0b0" opacity="0.8"/>
<ellipse cx="162.80" cy="199.87" rx="2.4" ry="4.5" fill="#7a7a7a"/>
<ellipse cx="162.80" cy="211.00" rx="3.3" ry="4.5" fill="#a898e0" opacity="0.9"/>
<ellipse cx="163.00" cy="210.00" rx="1.8" ry="2.4" fill="#7a58e0" opacity="0.9"/>
</g>
<ellipse cx="162.80" cy="196.35" rx="1.1" ry="2.4" fill="#f0f0f0" filter="url(#blur05)"/>
<rect x="98.0" y="189.7" width="71.90" height="39.10" filter="url(#noise)" opacity="0.16"/>
<rect x="98.0" y="189.7" width="71.90" height="1.2" fill="#111" opacity="0.6"/>
</g>
<g clip-path="url(#clip2)">
<rect x="99.2" y="245.2" width="70.80" height="38.90" fill="#505050"/>
<rect x="110.70" y="245.2" width="3.0" height="38.90" fill="#141414" filter="url(#blur1)"/>
<rect x="123.10" y="245.2" width="3.0" height="38.90" fill="#141414" filter="url(#blur1)"/>
<rect x="136.70" y="245.2" width="3.0" height="38.90" fill="#141414" filter="url(#blur1)"/>
<rect x="150.70" y="245.2" width="3.0" height="38.90" fill="#141414" filter="url(#blur1)"/>
<g filter="url(#rough)">
<line x1="105.80" y1="272.00" x2="105.80" y2="284.10" stroke="#c8c8c8" stroke-width="1.1"/>
<ellipse cx="105.80" cy="264.00" rx="4.2" ry="10" fill="#8e8e8e"/>
<ellipse cx="104.80" cy="266.00" rx="2.10" ry="5.00" fill="#b0b0b0" opacity="0.8"/>
<ellipse cx="105.80" cy="255.31" rx="2.4" ry="4.5" fill="#7a7a7a"/>
<ellipse cx="105.80" cy="264.00" rx="4.0" ry="7.8" fill="#c890e0" opacity="0.95"/>
<ellipse cx="105.80" cy="264.00" rx="3.2" ry="6.0" fill="#3a1ae8" opacity="1"/>
<ellipse cx="105.80" cy="270.00" rx="2.4" ry="2.0" fill="#f0c8f0" opacity="0.9"/>
</g>
<ellipse cx="105.80" cy="251.81" rx="1.1" ry="2.4" fill="#f0f0f0" filter="url(#blur05)"/>
<g filter="url(#rough)">
<line x1="118.20" y1="272.00" x2="118.20" y2="284.10" stroke="#c8c8c8" stroke-width="1.1"/>
<ellipse cx="118.20" cy="264.00" rx="4.2" ry="10" fill="#8e8e8e"/>
<ellipse cx="117.20" cy="266.00" rx="2.10" ry="5.00" fill="#b0b0b0" opacity="0.8"/>
<ellipse cx="118.20" cy="255.31" rx="2.4" ry="4.5" fill="#7a7a7a"/>
<ellipse cx="118.20" cy="264.00" rx="4.0" ry="7.8" fill="#c890e0" opacity="0.95"/>
<ellipse cx="118.20" cy="264.00" rx="3.3" ry="6.0" fill="#3a18e8" opacity="1"/>
<ellipse cx="118.20" cy="270.00" rx="2.4" ry="2.0" fill="#f0c8f0" opacity="0.9"/>
</g>
<ellipse cx="118.20" cy="251.81" rx="1.1" ry="2.4" fill="#f0f0f0" filter="url(#blur05)"/>
<g filter="url(#rough)">
<line x1="131.00" y1="272.00" x2="131.00" y2="284.10" stroke="#c8c8c8" stroke-width="1.1"/>
<ellipse cx="131.00" cy="264.00" rx="4.2" ry="10" fill="#8e8e8e"/>
<ellipse cx="130.00" cy="266.00" rx="2.10" ry="5.00" fill="#b0b0b0" opacity="0.8"/>
<ellipse cx="131.00" cy="255.31" rx="2.4" ry="4.5" fill="#7a7a7a"/>
<ellipse cx="131.00" cy="263.00" rx="4.0" ry="7.2" fill="#c090e0" opacity="0.95"/>
<ellipse cx="131.00" cy="262.00" rx="3.2" ry="5.2" fill="#3818e8" opacity="1"/>
<ellipse cx="131.00" cy="269.00" rx="2.4" ry="2.4" fill="#f0e0f0" opacity="0.9"/>
</g>
<ellipse cx="131.00" cy="251.81" rx="1.1" ry="2.4" fill="#f0f0f0" filter="url(#blur05)"/>
<g filter="url(#rough)">
<line x1="145.20" y1="272.00" x2="145.20" y2="284.10" stroke="#c8c8c8" stroke-width="1.1"/>
<ellipse cx="145.20" cy="264.00" rx="4.2" ry="10" fill="#8e8e8e"/>
<ellipse cx="144.20" cy="266.00" rx="2.10" ry="5.00" fill="#b0b0b0" opacity="0.8"/>
<ellipse cx="145.20" cy="255.31" rx="2.4" ry="4.5" fill="#7a7a7a"/>
<ellipse cx="145.20" cy="264.00" rx="4.0" ry="7.5" fill="#a070e0" opacity="0.95"/>
<ellipse cx="145.20" cy="264.00" rx="3.3" ry="5.8" fill="#3a20e8" opacity="1"/>
<ellipse cx="145.20" cy="263.50" rx="1.7" ry="2.2" fill="#30d8a0" opacity="1"/>
</g>
<ellipse cx="145.20" cy="251.81" rx="1.1" ry="2.4" fill="#f0f0f0" filter="url(#blur05)"/>
<g filter="url(#rough)">
<line x1="159.20" y1="273.00" x2="159.20" y2="284.10" stroke="#c8c8c8" stroke-width="1.1"/>
<ellipse cx="159.20" cy="265.00" rx="4.2" ry="10" fill="#8e8e8e"/>
<ellipse cx="158.20" cy="267.00" rx="2.10" ry="5.00" fill="#b0b0b0" opacity="0.8"/>
<ellipse cx="159.20" cy="255.31" rx="2.4" ry="4.5" fill="#7a7a7a"/>
<ellipse cx="159.20" cy="265.00" rx="4.0" ry="7.5" fill="#c0a0e8" opacity="0.9"/>
<ellipse cx="159.20" cy="265.00" rx="2.8" ry="5.0" fill="#8a60e0" opacity="0.95"/>
</g>
<ellipse cx="159.20" cy="251.81" rx="1.1" ry="2.4" fill="#f0f0f0" filter="url(#blur05)"/>
<rect x="99.2" y="245.2" width="70.80" height="38.90" filter="url(#noise)" opacity="0.16"/>
<rect x="99.2" y="245.2" width="70.80" height="1.2" fill="#111" opacity="0.6"/>
</g>
<g clip-path="url(#clip3)">
<rect x="98.3" y="300.4" width="72.70" height="37.30" fill="#505050"/>
<rect x="156.5" y="300.4" width="14.8" height="37.3" fill="#727272"/>
<rect x="113.00" y="300.4" width="3.0" height="37.30" fill="#141414" filter="url(#blur1)"/>
<rect x="126.30" y="300.4" width="3.0" height="37.30" fill="#141414" filter="url(#blur1)"/>
<rect x="139.50" y="300.4" width="3.0" height="37.30" fill="#141414" filter="url(#blur1)"/>
<rect x="154.10" y="300.4" width="3.0" height="37.30" fill="#141414" filter="url(#blur1)"/>
<g filter="url(#rough)">
<line x1="107.20" y1="328.40" x2="107.20" y2="337.70" stroke="#c8c8c8" stroke-width="1.1"/>
<ellipse cx="107.20" cy="318.00" rx="5" ry="13" fill="#8e8e8e"/>
<ellipse cx="106.20" cy="320.00" rx="2.50" ry="6.50" fill="#b0b0b0" opacity="0.8"/>
<ellipse cx="107.20" cy="310.10" rx="2.4" ry="4.5" fill="#7a7a7a"/>
<ellipse cx="107.20" cy="318.50" rx="5.4" ry="11.5" fill="#7a20f0" opacity="0.95"/>
<ellipse cx="107.20" cy="316.50" rx="3.9" ry="5.2" fill="#2040ff" opacity="1"/>
<ellipse cx="107.20" cy="316.30" rx="2.0" ry="2.0" fill="#30e090" opacity="1"/>
</g>
<ellipse cx="107.20" cy="306.74" rx="1.1" ry="2.4" fill="#f0f0f0" filter="url(#blur05)"/>
<g filter="url(#rough)">
<line x1="121.30" y1="328.40" x2="121.30" y2="337.70" stroke="#c8c8c8" stroke-width="1.1"/>
<ellipse cx="121.30" cy="318.00" rx="5" ry="13" fill="#8e8e8e"/>
<ellipse cx="120.30" cy="320.00" rx="2.50" ry="6.50" fill="#b0b0b0" opacity="0.8"/>
<ellipse cx="121.30" cy="310.10" rx="2.4" ry="4.5" fill="#7a7a7a"/>
<ellipse cx="121.30" cy="318.50" rx="5.4" ry="11.5" fill="#8028e8" opacity="0.95"/>
<ellipse cx="121.30" cy="316.50" rx="3.8" ry="5.0" fill="#2038ff" opacity="1"/>
<ellipse cx="121.30" cy="316.50" rx="1.3" ry="1.5" fill="#40c8e8" opacity="0.9"/>
<ellipse cx="121.30" cy="326.00" rx="2.6" ry="2.6" fill="#d0a0f0" opacity="0.8"/>
</g>
<ellipse cx="121.30" cy="306.74" rx="1.1" ry="2.4" fill="#f0f0f0" filter="url(#blur05)"/>
<g filter="url(#rough)">
<line x1="133.80" y1="328.40" x2="133.80" y2="337.70" stroke="#c8c8c8" stroke-width="1.1"/>
<ellipse cx="133.80" cy="318.00" rx="5" ry="13" fill="#8e8e8e"/>
<ellipse cx="132.80" cy="320.00" rx="2.50" ry="6.50" fill="#b0b0b0" opacity="0.8"/>
<ellipse cx="133.80" cy="310.10" rx="2.4" ry="4.5" fill="#7a7a7a"/>
<ellipse cx="133.80" cy="318.50" rx="5.4" ry="11.5" fill="#8a38e8" opacity="0.95"/>
<ellipse cx="133.80" cy="316.50" rx="3.8" ry="5.0" fill="#2038ff" opacity="1"/>
<ellipse cx="133.80" cy="316.50" rx="1.3" ry="1.5" fill="#60d0f0" opacity="0.9"/>
<ellipse cx="133.80" cy="325.00" rx="2.8" ry="3.0" fill="#e0c0f0" opacity="0.8"/>
</g>
<ellipse cx="133.80" cy="306.74" rx="1.1" ry="2.4" fill="#f0f0f0" filter="url(#blur05)"/>
<g filter="url(#rough)">
<line x1="147.80" y1="328.40" x2="147.80" y2="337.70" stroke="#c8c8c8" stroke-width="1.1"/>
<ellipse cx="147.80" cy="318.00" rx="5" ry="13" fill="#8e8e8e"/>
<ellipse cx="146.80" cy="320.00" rx="2.50" ry="6.50" fill="#b0b0b0" opacity="0.8"/>
<ellipse cx="147.80" cy="310.10" rx="2.4" ry="4.5" fill="#7a7a7a"/>
<ellipse cx="147.80" cy="320.00" rx="5.0" ry="10.0" fill="#c0a0f0" opacity="0.9"/>
<ellipse cx="147.80" cy="316.00" rx="4.0" ry="5.4" fill="#3020f8" opacity="1"/>
</g>
<ellipse cx="147.80" cy="306.74" rx="1.1" ry="2.4" fill="#f0f0f0" filter="url(#blur05)"/>
<rect x="98.3" y="300.4" width="72.70" height="37.30" filter="url(#noise)" opacity="0.16"/>
<rect x="98.3" y="300.4" width="72.70" height="1.2" fill="#111" opacity="0.6"/>
</g>
<text x="186.40" y="182.30" font-size="11" font-weight="bold" text-anchor="start" fill="#000" >D</text>
<line x1="215.40" y1="194.10" x2="215.40" y2="285.30" stroke="#505050" stroke-width="0.9"/>
<line x1="213.40" y1="285.30" x2="215.40" y2="285.30" stroke="#505050" stroke-width="0.9"/>
<text x="212.00" y="287.82" font-size="6.2" font-weight="bold" text-anchor="end" fill="#000" >0</text>
<line x1="213.40" y1="270.10" x2="215.40" y2="270.10" stroke="#505050" stroke-width="0.9"/>
<text x="212.00" y="272.62" font-size="6.2" font-weight="bold" text-anchor="end" fill="#000" >2</text>
<line x1="213.40" y1="254.90" x2="215.40" y2="254.90" stroke="#505050" stroke-width="0.9"/>
<text x="212.00" y="257.42" font-size="6.2" font-weight="bold" text-anchor="end" fill="#000" >4</text>
<line x1="213.40" y1="239.70" x2="215.40" y2="239.70" stroke="#505050" stroke-width="0.9"/>
<text x="212.00" y="242.22" font-size="6.2" font-weight="bold" text-anchor="end" fill="#000" >6</text>
<line x1="213.40" y1="224.50" x2="215.40" y2="224.50" stroke="#505050" stroke-width="0.9"/>
<text x="212.00" y="227.02" font-size="6.2" font-weight="bold" text-anchor="end" fill="#000" >8</text>
<line x1="213.40" y1="209.30" x2="215.40" y2="209.30" stroke="#505050" stroke-width="0.9"/>
<text x="212.00" y="211.82" font-size="6.2" font-weight="bold" text-anchor="end" fill="#000" >10</text>
<line x1="213.40" y1="194.10" x2="215.40" y2="194.10" stroke="#505050" stroke-width="0.9"/>
<text x="212.00" y="196.62" font-size="6.2" font-weight="bold" text-anchor="end" fill="#000" >12</text>
<line x1="215.40" y1="285.30" x2="253.70" y2="285.30" stroke="#505050" stroke-width="0.9"/>
<text transform="translate(197.96,239.90) rotate(-90)" font-size="6.6" font-weight="bold" text-anchor="middle" fill="#000"><tspan font-style="italic">In vivo</tspan> cytotoxicity index</text>
<line x1="221.30" y1="217.28" x2="221.30" y2="205.88" stroke="#222" stroke-width="0.8"/>
<line x1="219.60" y1="205.88" x2="223.00" y2="205.88" stroke="#222" stroke-width="0.8"/>
<rect x="217.2" y="217.28" width="8.3" height="68.02" fill="#fff" stroke="#111" stroke-width="0.9"/>
<line x1="234.30" y1="248.97" x2="234.30" y2="244.26" stroke="#222" stroke-width="0.8"/>
<line x1="232.60" y1="244.26" x2="236.00" y2="244.26" stroke="#222" stroke-width="0.8"/>
<rect x="230.2" y="248.97" width="8.2" height="36.33" fill="#000"/>
<rect x="243.1" y="277.32" width="8.5" height="7.98" fill="#8a8a8a" stroke="#555" stroke-width="0.6"/>
<text x="234.20" y="243.21" font-size="6.8" font-weight="bold" text-anchor="middle" fill="#000" >*</text>
<rect x="196.4" y="299.90" width="8.1" height="4.7" fill="#fff" stroke="#333" stroke-width="0.6"/>
<text x="209.00" y="304.57" font-size="6.35" font-weight="normal" text-anchor="start" fill="#111" >B6.WT <tspan font-weight="bold" font-size="7.6" baseline-shift="1.1" stroke="#111" stroke-width="0.35">→</tspan> B6D2F1</text>
<rect x="196.4" y="309.50" width="8.1" height="4.7" fill="#000" stroke="#333" stroke-width="0.6"/>
<text x="209.00" y="314.17" font-size="6.35" font-weight="normal" text-anchor="start" fill="#111" >B6.IFNAR1<tspan font-size="4.9" baseline-shift="2.4">-/-</tspan> <tspan font-weight="bold" font-size="7.6" baseline-shift="1.1" stroke="#111" stroke-width="0.35">→</tspan> B6D2F1</text>
<rect x="196.4" y="319.10" width="8.1" height="4.7" fill="#8a8a8a" stroke="#333" stroke-width="0.6"/>
<text x="209.00" y="323.77" font-size="6.35" font-weight="normal" text-anchor="start" fill="#111" >B6.WT (TCD) <tspan font-weight="bold" font-size="7.6" baseline-shift="1.1" stroke="#111" stroke-width="0.35">→</tspan> B6D2F1</text>
<text x="263.00" y="184.20" font-size="11" font-weight="bold" text-anchor="start" fill="#000" >E</text>
<line x1="291.40" y1="194.90" x2="291.40" y2="280.60" stroke="#505050" stroke-width="0.9"/>
<line x1="289.40" y1="280.60" x2="291.40" y2="280.60" stroke="#505050" stroke-width="0.9"/>
<text x="288.00" y="283.12" font-size="6.2" font-weight="bold" text-anchor="end" fill="#000" >0</text>
<line x1="289.40" y1="263.46" x2="291.40" y2="263.46" stroke="#505050" stroke-width="0.9"/>
<text x="288.00" y="265.98" font-size="6.2" font-weight="bold" text-anchor="end" fill="#000" >20</text>
<line x1="289.40" y1="246.32" x2="291.40" y2="246.32" stroke="#505050" stroke-width="0.9"/>
<text x="288.00" y="248.84" font-size="6.2" font-weight="bold" text-anchor="end" fill="#000" >40</text>
<line x1="289.40" y1="229.18" x2="291.40" y2="229.18" stroke="#505050" stroke-width="0.9"/>
<text x="288.00" y="231.70" font-size="6.2" font-weight="bold" text-anchor="end" fill="#000" >60</text>
<line x1="289.40" y1="212.04" x2="291.40" y2="212.04" stroke="#505050" stroke-width="0.9"/>
<text x="288.00" y="214.56" font-size="6.2" font-weight="bold" text-anchor="end" fill="#000" >80</text>
<line x1="289.40" y1="194.90" x2="291.40" y2="194.90" stroke="#505050" stroke-width="0.9"/>
<text x="288.00" y="197.42" font-size="6.2" font-weight="bold" text-anchor="end" fill="#000" >100</text>
<line x1="291.40" y1="280.60" x2="420.90" y2="280.60" stroke="#505050" stroke-width="0.9"/>
<line x1="291.90" y1="280.60" x2="291.90" y2="282.60" stroke="#505050" stroke-width="0.9"/>
<text x="291.90" y="289.62" font-size="6.2" font-weight="bold" text-anchor="middle" fill="#000" >0</text>
<line x1="317.70" y1="280.60" x2="317.70" y2="282.60" stroke="#505050" stroke-width="0.9"/>
<text x="317.70" y="289.62" font-size="6.2" font-weight="bold" text-anchor="middle" fill="#000" >10</text>
<line x1="343.50" y1="280.60" x2="343.50" y2="282.60" stroke="#505050" stroke-width="0.9"/>
<text x="343.50" y="289.62" font-size="6.2" font-weight="bold" text-anchor="middle" fill="#000" >20</text>
<line x1="369.30" y1="280.60" x2="369.30" y2="282.60" stroke="#505050" stroke-width="0.9"/>
<text x="369.30" y="289.62" font-size="6.2" font-weight="bold" text-anchor="middle" fill="#000" >30</text>
<line x1="395.10" y1="280.60" x2="395.10" y2="282.60" stroke="#505050" stroke-width="0.9"/>
<text x="395.10" y="289.62" font-size="6.2" font-weight="bold" text-anchor="middle" fill="#000" >40</text>
<line x1="420.90" y1="280.60" x2="420.90" y2="282.60" stroke="#505050" stroke-width="0.9"/>
<text x="420.90" y="289.62" font-size="6.2" font-weight="bold" text-anchor="middle" fill="#000" >50</text>
<text transform="translate(274.37,237.50) rotate(-90)" font-size="6.9" font-weight="bold" text-anchor="middle" fill="#000">leukaemic death</text>
<text x="356.20" y="300.14" font-size="7.1" font-weight="bold" text-anchor="middle" fill="#000" >Days post BMT</text>
<path d="M324.6,280.6 H325.4 V237.6 H327.8 V194.8" stroke="#444" stroke-width="0.9" fill="none"/>
<path d="M325.40,235.50 L327.50,237.60 L325.40,239.70 L323.30,237.60Z" fill="#000"/>
<path d="M327.80,192.70 L329.90,194.80 L327.80,196.90 L325.70,194.80Z" fill="#000"/>
<path d="M333.90,280.60 H335.40 V274.60 H337.70 V266.90 H340.80 V260.80 H343.10 V247.70 H353.80 V233.90 H366.60 V227.30 H371.50 V221.50 H387.20 V214.00 H400.50 V194.50" stroke="#555" stroke-width="0.8" fill="none"/>
<path d="M331.60,280.60 H333.10 V264.60 H338.20 V253.80 H341.00 V240.00 H343.50 V226.50 H345.80 V215.80 H348.80 V210.40 H353.50 V205.00 H358.90 V199.90 H369.20 V194.50" stroke="#555" stroke-width="0.8" fill="none"/>
<path d="M337.00,280.60 H338.50 V275.40 H340.80 V270.30 H343.80 V264.60 H346.20 V259.20 H354.60 V243.10 H356.50 V232.70 H358.90 V226.80 H361.50 V221.60 H366.60 V216.50 H374.60 V209.00 H379.50 V209.00 H384.60 V194.50" stroke="#333" stroke-width="0.8" fill="none"/>
<path d="M326.50,280.60 H328.00 V275.40 H333.50 V270.00 H335.40 V258.90 H338.20 V248.50 H340.80 V243.10 H343.80 V231.80 H346.20 V221.50 H348.80 V216.20 H353.80 V210.70 H356.50 V205.30 H366.60 V205.30" stroke="#333" stroke-width="0.8" fill="none"/>
<rect x="310.40" y="279.00" width="3.2" height="3.2" fill="#c4c4c4" stroke="#3a3a3a" stroke-width="0.75"/>
<rect x="321.20" y="279.00" width="3.2" height="3.2" fill="#c4c4c4" stroke="#3a3a3a" stroke-width="0.75"/>
<rect x="333.80" y="273.00" width="3.2" height="3.2" fill="#c4c4c4" stroke="#3a3a3a" stroke-width="0.75"/>
<rect x="336.10" y="265.30" width="3.2" height="3.2" fill="#c4c4c4" stroke="#3a3a3a" stroke-width="0.75"/>
<rect x="339.20" y="259.20" width="3.2" height="3.2" fill="#c4c4c4" stroke="#3a3a3a" stroke-width="0.75"/>
<rect x="341.50" y="246.10" width="3.2" height="3.2" fill="#c4c4c4" stroke="#3a3a3a" stroke-width="0.75"/>
<rect x="352.20" y="232.30" width="3.2" height="3.2" fill="#c4c4c4" stroke="#3a3a3a" stroke-width="0.75"/>
<rect x="365.00" y="225.70" width="3.2" height="3.2" fill="#c4c4c4" stroke="#3a3a3a" stroke-width="0.75"/>
<rect x="369.90" y="219.90" width="3.2" height="3.2" fill="#c4c4c4" stroke="#3a3a3a" stroke-width="0.75"/>
<rect x="385.60" y="212.40" width="3.2" height="3.2" fill="#c4c4c4" stroke="#3a3a3a" stroke-width="0.75"/>
<rect x="398.90" y="192.90" width="3.2" height="3.2" fill="#c4c4c4" stroke="#3a3a3a" stroke-width="0.75"/>
<circle cx="333.10" cy="264.60" r="1.7" fill="#c4c4c4" stroke="#3a3a3a" stroke-width="0.75"/>
<circle cx="338.20" cy="253.80" r="1.7" fill="#c4c4c4" stroke="#3a3a3a" stroke-width="0.75"/>
<circle cx="341.00" cy="240.00" r="1.7" fill="#c4c4c4" stroke="#3a3a3a" stroke-width="0.75"/>
<circle cx="343.50" cy="226.50" r="1.7" fill="#c4c4c4" stroke="#3a3a3a" stroke-width="0.75"/>
<circle cx="345.80" cy="215.80" r="1.7" fill="#c4c4c4" stroke="#3a3a3a" stroke-width="0.75"/>
<circle cx="348.80" cy="210.40" r="1.7" fill="#c4c4c4" stroke="#3a3a3a" stroke-width="0.75"/>
<circle cx="353.50" cy="205.00" r="1.7" fill="#c4c4c4" stroke="#3a3a3a" stroke-width="0.75"/>
<circle cx="358.90" cy="199.90" r="1.7" fill="#c4c4c4" stroke="#3a3a3a" stroke-width="0.75"/>
<circle cx="369.20" cy="194.50" r="1.7" fill="#c4c4c4" stroke="#3a3a3a" stroke-width="0.75"/>
<rect x="336.95" y="273.85" width="3.1" height="3.1" fill="#000" stroke="none" stroke-width="0.8"/>
<rect x="339.25" y="268.75" width="3.1" height="3.1" fill="#000" stroke="none" stroke-width="0.8"/>
<rect x="342.25" y="263.05" width="3.1" height="3.1" fill="#000" stroke="none" stroke-width="0.8"/>
<rect x="344.65" y="257.65" width="3.1" height="3.1" fill="#000" stroke="none" stroke-width="0.8"/>
<rect x="353.05" y="241.55" width="3.1" height="3.1" fill="#000" stroke="none" stroke-width="0.8"/>
<rect x="354.95" y="231.15" width="3.1" height="3.1" fill="#000" stroke="none" stroke-width="0.8"/>
<rect x="357.35" y="225.25" width="3.1" height="3.1" fill="#000" stroke="none" stroke-width="0.8"/>
<rect x="359.95" y="220.05" width="3.1" height="3.1" fill="#000" stroke="none" stroke-width="0.8"/>
<rect x="365.05" y="214.95" width="3.1" height="3.1" fill="#000" stroke="none" stroke-width="0.8"/>
<rect x="373.05" y="207.45" width="3.1" height="3.1" fill="#000" stroke="none" stroke-width="0.8"/>
<rect x="377.95" y="207.45" width="3.1" height="3.1" fill="#000" stroke="none" stroke-width="0.8"/>
<rect x="383.05" y="192.95" width="3.1" height="3.1" fill="#000" stroke="none" stroke-width="0.8"/>
<circle cx="328.00" cy="275.40" r="1.75" fill="#000" stroke="none" stroke-width="0.8"/>
<circle cx="333.50" cy="270.00" r="1.75" fill="#000" stroke="none" stroke-width="0.8"/>
<circle cx="335.40" cy="258.90" r="1.75" fill="#000" stroke="none" stroke-width="0.8"/>
<circle cx="338.20" cy="248.50" r="1.75" fill="#000" stroke="none" stroke-width="0.8"/>
<circle cx="340.80" cy="243.10" r="1.75" fill="#000" stroke="none" stroke-width="0.8"/>
<circle cx="343.80" cy="231.80" r="1.75" fill="#000" stroke="none" stroke-width="0.8"/>
<circle cx="346.20" cy="221.50" r="1.75" fill="#000" stroke="none" stroke-width="0.8"/>
<circle cx="348.80" cy="216.20" r="1.75" fill="#000" stroke="none" stroke-width="0.8"/>
<circle cx="353.80" cy="210.70" r="1.75" fill="#000" stroke="none" stroke-width="0.8"/>
<circle cx="356.50" cy="205.30" r="1.75" fill="#000" stroke="none" stroke-width="0.8"/>
<circle cx="366.60" cy="205.30" r="1.75" fill="#000" stroke="none" stroke-width="0.8"/>
<line x1="306.50" y1="313.80" x2="316.30" y2="313.80" stroke="#333" stroke-width="0.9"/>
<rect x="309.60" y="312.00" width="3.6" height="3.6" fill="#000" stroke="none" stroke-width="0.8"/>
<text x="320.00" y="316.06" font-size="6.3" font-weight="normal" text-anchor="start" fill="#111" >B6.WT BM + B6.WT T</text>
<line x1="306.50" y1="323.53" x2="316.30" y2="323.53" stroke="#333" stroke-width="0.9"/>
<circle cx="311.40" cy="323.53" r="1.7" fill="#ccc" stroke="#555" stroke-width="0.7"/>
<text x="320.00" y="325.79" font-size="6.3" font-weight="normal" text-anchor="start" fill="#111" >B6.WT BM + B6.IFNAR1<tspan font-size="4.9" baseline-shift="2.4">-/-</tspan> T</text>
<line x1="306.50" y1="333.26" x2="316.30" y2="333.26" stroke="#333" stroke-width="0.9"/>
<rect x="309.75" y="331.61" width="3.3" height="3.3" fill="#ddd" stroke="#555" stroke-width="0.7"/>
<text x="320.00" y="335.52" font-size="6.3" font-weight="normal" text-anchor="start" fill="#111" >B6.IFNAR1<tspan font-size="4.9" baseline-shift="2.4">-/-</tspan> BM + B6.WT T</text>
<line x1="306.50" y1="342.99" x2="316.30" y2="342.99" stroke="#333" stroke-width="0.9"/>
<circle cx="311.40" cy="342.99" r="1.9" fill="#000" stroke="none" stroke-width="0.8"/>
<text x="320.00" y="345.25" font-size="6.3" font-weight="normal" text-anchor="start" fill="#111" >B6.IFNAR1<tspan font-size="4.9" baseline-shift="2.4">-/-</tspan> BM + B6.IFNAR1<tspan font-size="4.9" baseline-shift="2.4">-/-</tspan> T</text>
<line x1="306.50" y1="352.72" x2="316.30" y2="352.72" stroke="#333" stroke-width="0.9"/>
<path d="M311.40,350.22 L313.90,352.72 L311.40,355.22 L308.90,352.72Z" fill="#000"/>
<text x="320.00" y="354.98" font-size="6.3" font-weight="normal" text-anchor="start" fill="#111" >B6.WT TCD BM</text>
<line x1="419.30" y1="309.80" x2="419.30" y2="324.50" stroke="#555" stroke-width="0.8"/>
<line x1="417.60" y1="309.80" x2="421.10" y2="309.80" stroke="#555" stroke-width="0.8"/>
<line x1="417.60" y1="324.50" x2="421.10" y2="324.50" stroke="#555" stroke-width="0.8"/>
<text x="423.90" y="320.41" font-size="6.2" font-weight="bold" text-anchor="middle" fill="#000" >**</text>
<line x1="419.30" y1="328.20" x2="419.30" y2="342.40" stroke="#555" stroke-width="0.8"/>
<line x1="417.60" y1="328.20" x2="421.10" y2="328.20" stroke="#555" stroke-width="0.8"/>
<line x1="417.60" y1="342.40" x2="421.10" y2="342.40" stroke="#555" stroke-width="0.8"/>
<text x="422.70" y="338.91" font-size="6.2" font-weight="bold" text-anchor="middle" fill="#000" >*</text>
<text x="425.40" y="181.60" font-size="11" font-weight="bold" text-anchor="start" fill="#000" >F</text>
<line x1="471.50" y1="193.10" x2="471.50" y2="280.60" stroke="#505050" stroke-width="0.9"/>
<line x1="469.60" y1="193.10" x2="471.50" y2="193.10" stroke="#505050" stroke-width="0.9"/>
<text x="446.20" y="195.03" font-size="5.4" font-weight="bold" text-anchor="start" fill="#000" >1.1x10<tspan font-size="3.6" baseline-shift="2.0">08</tspan></text>
<line x1="469.60" y1="214.80" x2="471.50" y2="214.80" stroke="#505050" stroke-width="0.9"/>
<text x="446.20" y="216.73" font-size="5.4" font-weight="bold" text-anchor="start" fill="#000" >3.4x10<tspan font-size="3.6" baseline-shift="2.0">07</tspan></text>
<line x1="469.60" y1="236.50" x2="471.50" y2="236.50" stroke="#505050" stroke-width="0.9"/>
<text x="446.20" y="238.43" font-size="5.4" font-weight="bold" text-anchor="start" fill="#000" >1.0x10<tspan font-size="3.6" baseline-shift="2.0">06</tspan></text>
<line x1="469.60" y1="258.20" x2="471.50" y2="258.20" stroke="#505050" stroke-width="0.9"/>
<text x="446.20" y="260.13" font-size="5.4" font-weight="bold" text-anchor="start" fill="#000" >3.3x10<tspan font-size="3.6" baseline-shift="2.0">04</tspan></text>
<line x1="469.60" y1="279.90" x2="471.50" y2="279.90" stroke="#505050" stroke-width="0.9"/>
<text x="446.20" y="281.83" font-size="5.4" font-weight="bold" text-anchor="start" fill="#000" >1.0x10<tspan font-size="3.6" baseline-shift="2.0">05</tspan></text>
<line x1="471.50" y1="280.60" x2="516.20" y2="280.60" stroke="#505050" stroke-width="0.9"/>
<line x1="476.50" y1="280.60" x2="476.50" y2="282.40" stroke="#505050" stroke-width="0.9"/>
<line x1="485.70" y1="280.60" x2="485.70" y2="282.40" stroke="#505050" stroke-width="0.9"/>
<line x1="501.50" y1="280.60" x2="501.50" y2="282.40" stroke="#505050" stroke-width="0.9"/>
<line x1="510.80" y1="280.60" x2="510.80" y2="282.40" stroke="#505050" stroke-width="0.9"/>
<text transform="translate(442.25,237.00) rotate(-90)" font-size="7.4" font-weight="bold" text-anchor="middle" fill="#000">BLI (p/sec/cm<tspan font-size="4.4" baseline-shift="2.6">2</tspan>/sr)</text>
<text x="461.60" y="290.49" font-size="6.4" font-weight="normal" text-anchor="middle" fill="#111" >day</text>
<text x="476.50" y="290.49" font-size="6.4" font-weight="normal" text-anchor="middle" fill="#111" >0</text>
<text x="485.70" y="290.49" font-size="6.4" font-weight="normal" text-anchor="middle" fill="#111" >7</text>
<text x="501.50" y="290.49" font-size="6.4" font-weight="normal" text-anchor="middle" fill="#111" >0</text>
<text x="510.80" y="290.49" font-size="6.4" font-weight="normal" text-anchor="middle" fill="#111" >7</text>
<line x1="475.10" y1="294.30" x2="486.90" y2="294.30" stroke="#333" stroke-width="0.8"/>
<line x1="500.00" y1="294.30" x2="512.00" y2="294.30" stroke="#333" stroke-width="0.8"/>
<text x="481.60" y="301.42" font-size="6.2" font-weight="normal" text-anchor="middle" fill="#111" >saline</text>
<text x="506.60" y="301.42" font-size="6.2" font-weight="normal" text-anchor="middle" fill="#111" >IFNα</text>
<line x1="474.50" y1="199.40" x2="486.20" y2="199.40" stroke="#666" stroke-width="0.8"/>
<text x="480.60" y="199.41" font-size="5.4" font-weight="bold" text-anchor="middle" fill="#000" >**</text>
<line x1="499.10" y1="220.20" x2="510.20" y2="220.20" stroke="#666" stroke-width="0.8"/>
<text x="504.60" y="218.52" font-size="4.8" font-weight="normal" text-anchor="middle" fill="#333" >NS</text>
<circle cx="476.30" cy="236.90" r="1.45" fill="#000" stroke="none" stroke-width="0.8"/>
<circle cx="474.60" cy="241.80" r="1.45" fill="#000" stroke="none" stroke-width="0.8"/>
<circle cx="477.90" cy="241.80" r="1.45" fill="#000" stroke="none" stroke-width="0.8"/>
<circle cx="475.50" cy="244.40" r="1.45" fill="#000" stroke="none" stroke-width="0.8"/>
<circle cx="477.40" cy="246.20" r="1.45" fill="#000" stroke="none" stroke-width="0.8"/>
<circle cx="474.50" cy="248.60" r="1.45" fill="#000" stroke="none" stroke-width="0.8"/>
<circle cx="475.30" cy="251.70" r="1.45" fill="#000" stroke="none" stroke-width="0.8"/>
<circle cx="477.90" cy="253.70" r="1.45" fill="#000" stroke="none" stroke-width="0.8"/>
<circle cx="476.60" cy="256.30" r="1.45" fill="#000" stroke="none" stroke-width="0.8"/>
<circle cx="475.30" cy="258.30" r="1.45" fill="#000" stroke="none" stroke-width="0.8"/>
<circle cx="476.60" cy="259.60" r="1.45" fill="#000" stroke="none" stroke-width="0.8"/>
<circle cx="478.20" cy="250.00" r="1.45" fill="#000" stroke="none" stroke-width="0.8"/>
<circle cx="476.30" cy="269.40" r="1.45" fill="#000" stroke="none" stroke-width="0.8"/>
<circle cx="486.20" cy="203.90" r="1.45" fill="#000" stroke="none" stroke-width="0.8"/>
<circle cx="484.10" cy="216.50" r="1.45" fill="#000" stroke="none" stroke-width="0.8"/>
<circle cx="486.40" cy="218.10" r="1.45" fill="#000" stroke="none" stroke-width="0.8"/>
<circle cx="488.30" cy="218.10" r="1.45" fill="#000" stroke="none" stroke-width="0.8"/>
<circle cx="484.10" cy="221.90" r="1.45" fill="#000" stroke="none" stroke-width="0.8"/>
<circle cx="486.20" cy="225.50" r="1.45" fill="#000" stroke="none" stroke-width="0.8"/>
<circle cx="486.10" cy="242.50" r="1.45" fill="#000" stroke="none" stroke-width="0.8"/>
<circle cx="485.00" cy="249.50" r="1.45" fill="#000" stroke="none" stroke-width="0.8"/>
<circle cx="487.20" cy="249.50" r="1.45" fill="#000" stroke="none" stroke-width="0.8"/>
<circle cx="484.40" cy="252.60" r="1.45" fill="#000" stroke="none" stroke-width="0.8"/>
<circle cx="486.20" cy="252.80" r="1.45" fill="#000" stroke="none" stroke-width="0.8"/>
<circle cx="488.60" cy="252.60" r="1.45" fill="#000" stroke="none" stroke-width="0.8"/>
<circle cx="501.80" cy="236.80" r="1.45" fill="#000" stroke="none" stroke-width="0.8"/>
<circle cx="502.60" cy="245.00" r="1.45" fill="#000" stroke="none" stroke-width="0.8"/>
<circle cx="500.40" cy="247.50" r="1.45" fill="#000" stroke="none" stroke-width="0.8"/>
<circle cx="499.70" cy="251.40" r="1.45" fill="#000" stroke="none" stroke-width="0.8"/>
<circle cx="502.00" cy="252.00" r="1.45" fill="#000" stroke="none" stroke-width="0.8"/>
<circle cx="500.30" cy="253.80" r="1.45" fill="#000" stroke="none" stroke-width="0.8"/>
<circle cx="503.20" cy="253.20" r="1.45" fill="#000" stroke="none" stroke-width="0.8"/>
<circle cx="500.90" cy="255.50" r="1.45" fill="#000" stroke="none" stroke-width="0.8"/>
<circle cx="502.60" cy="256.10" r="1.45" fill="#000" stroke="none" stroke-width="0.8"/>
<circle cx="503.60" cy="249.60" r="1.45" fill="#000" stroke="none" stroke-width="0.8"/>
<circle cx="512.00" cy="224.40" r="1.45" fill="#000" stroke="none" stroke-width="0.8"/>
<circle cx="513.80" cy="229.10" r="1.45" fill="#000" stroke="none" stroke-width="0.8"/>
<circle cx="509.70" cy="230.90" r="1.45" fill="#000" stroke="none" stroke-width="0.8"/>
<circle cx="511.40" cy="231.80" r="1.45" fill="#000" stroke="none" stroke-width="0.8"/>
<circle cx="512.00" cy="244.70" r="1.45" fill="#000" stroke="none" stroke-width="0.8"/>
<circle cx="509.10" cy="249.70" r="1.45" fill="#000" stroke="none" stroke-width="0.8"/>
<circle cx="510.20" cy="252.00" r="1.45" fill="#000" stroke="none" stroke-width="0.8"/>
<circle cx="513.20" cy="252.60" r="1.45" fill="#000" stroke="none" stroke-width="0.8"/>
<circle cx="511.80" cy="250.60" r="1.45" fill="#000" stroke="none" stroke-width="0.8"/>
<line x1="473.30" y1="247.50" x2="479.30" y2="247.50" stroke="#222" stroke-width="0.8"/>
<line x1="476.30" y1="245.00" x2="476.30" y2="250.00" stroke="#222" stroke-width="0.7"/>
<line x1="474.70" y1="245.00" x2="477.90" y2="245.00" stroke="#222" stroke-width="0.7"/>
<line x1="474.70" y1="250.00" x2="477.90" y2="250.00" stroke="#222" stroke-width="0.7"/>
<line x1="482.60" y1="215.50" x2="487.80" y2="215.50" stroke="#222" stroke-width="0.8"/>
<line x1="499.20" y1="248.70" x2="504.40" y2="248.70" stroke="#222" stroke-width="0.8"/>
<line x1="501.80" y1="247.20" x2="501.80" y2="250.20" stroke="#222" stroke-width="0.7"/>
<line x1="500.20" y1="247.20" x2="503.40" y2="247.20" stroke="#222" stroke-width="0.7"/>
<line x1="500.20" y1="250.20" x2="503.40" y2="250.20" stroke="#222" stroke-width="0.7"/>
<line x1="508.80" y1="236.80" x2="513.80" y2="236.80" stroke="#222" stroke-width="0.8"/>
<line x1="511.30" y1="234.10" x2="511.30" y2="239.50" stroke="#222" stroke-width="0.7"/>
<line x1="509.70" y1="234.10" x2="512.90" y2="234.10" stroke="#222" stroke-width="0.7"/>
<line x1="509.70" y1="239.50" x2="512.90" y2="239.50" stroke="#222" stroke-width="0.7"/>
</svg>
</body></html>
